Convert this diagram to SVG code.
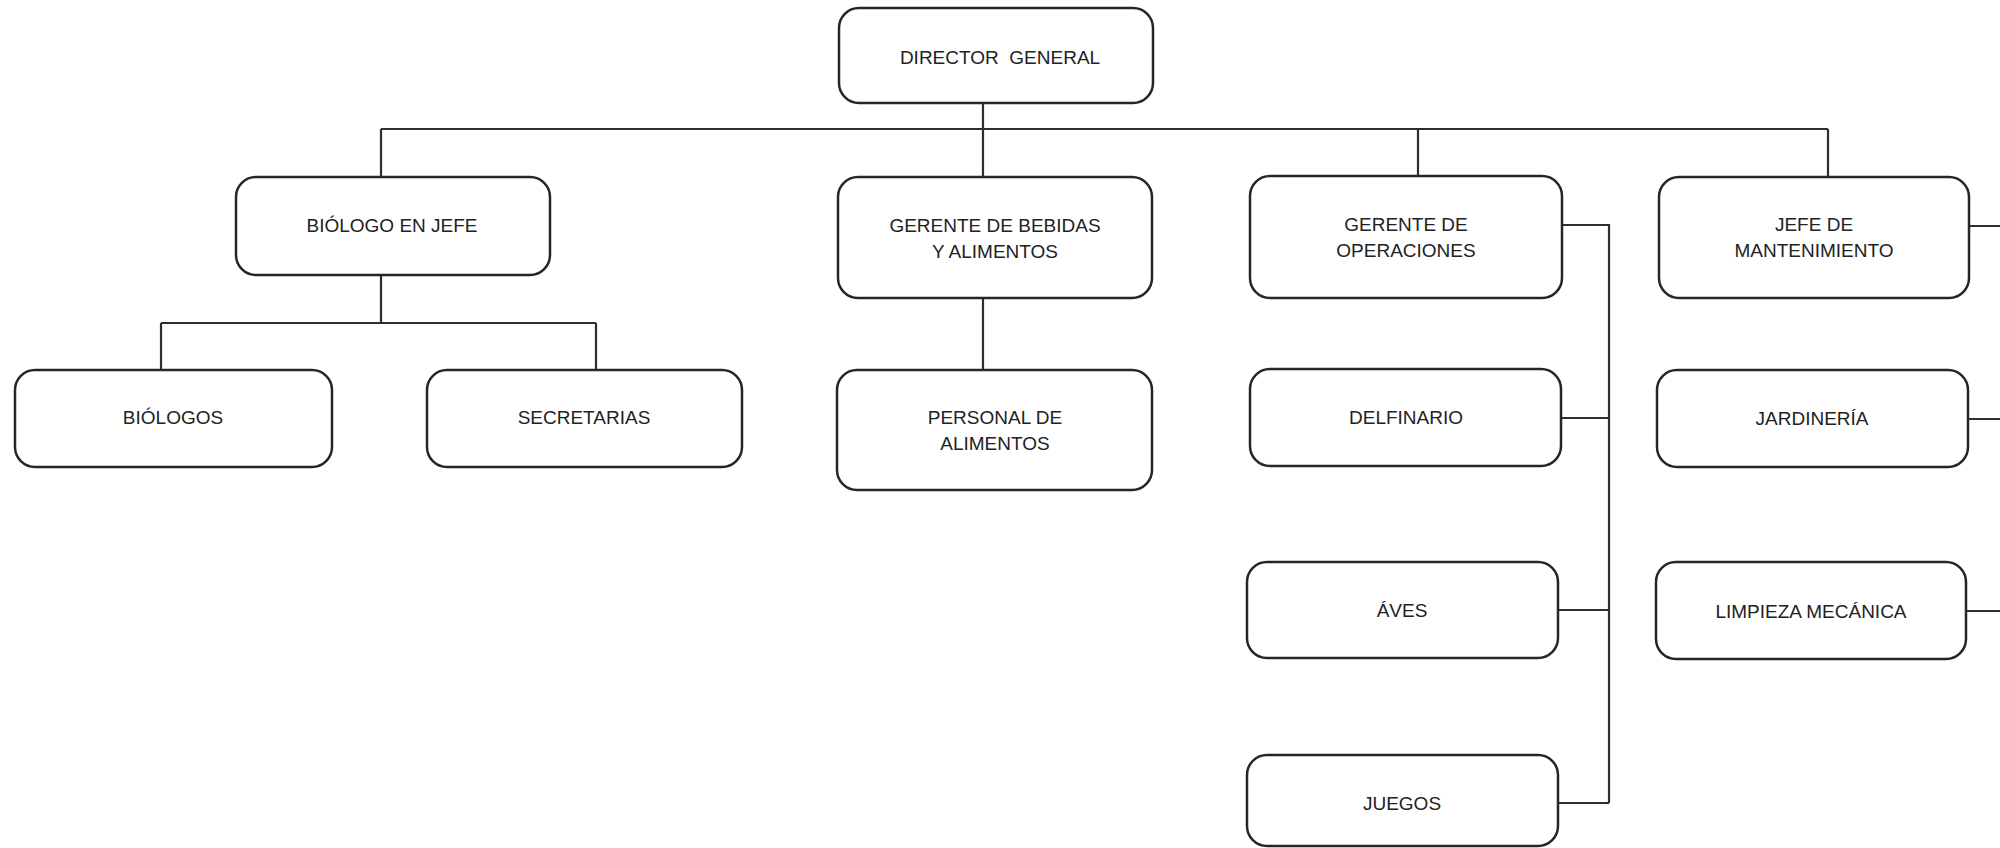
<svg xmlns="http://www.w3.org/2000/svg" width="2000" height="848" viewBox="0 0 2000 848">
  <style>
    .box { fill: #ffffff; stroke: #262626; stroke-width: 2.5; }
    .lbl { font-family: "Liberation Sans", Arial, sans-serif; font-size: 19px; fill: #222222; text-anchor: middle; }
    .conn { fill: none; stroke: #2e2e2e; stroke-width: 2.2; }
  </style>
  <rect x="0" y="0" width="2000" height="848" fill="#ffffff"/>

  <g id="connectors">
    <path class="conn" d="M983 103 V129"/>
    <path class="conn" d="M381 129 H1828"/>
    <path class="conn" d="M381 129 V177"/>
    <path class="conn" d="M983 129 V177"/>
    <path class="conn" d="M1418 129 V176"/>
    <path class="conn" d="M1828 129 V177"/>
    <path class="conn" d="M381 275 V323 M161 323 H596 M161 323 V370 M596 323 V370"/>
    <path class="conn" d="M983 298 V370"/>
    <path class="conn" d="M1562 225 H1609 V803 M1561 418 H1609 M1558 610 H1609 M1558 803 H1609"/>
    <path class="conn" d="M1969 226 H2000 M1968 419 H2000 M1966 611 H2000"/>
  </g>

  <g id="director-general">
    <rect class="box" x="839" y="8" width="314" height="95" rx="20"/>
    <text class="lbl" x="1000" y="64" xml:space="preserve">DIRECTOR  GENERAL</text>
  </g>

  <g id="biologo-en-jefe">
    <rect class="box" x="236" y="177" width="314" height="98" rx="20"/>
    <text class="lbl" x="392" y="232">BIÓLOGO EN JEFE</text>
  </g>

  <g id="gerente-bebidas">
    <rect class="box" x="838" y="177" width="314" height="121" rx="20"/>
    <text class="lbl" x="995" y="232">GERENTE DE BEBIDAS</text>
    <text class="lbl" x="995" y="258">Y ALIMENTOS</text>
  </g>

  <g id="gerente-operaciones">
    <rect class="box" x="1250" y="176" width="312" height="122" rx="20"/>
    <text class="lbl" x="1406" y="231">GERENTE DE</text>
    <text class="lbl" x="1406" y="257">OPERACIONES</text>
  </g>

  <g id="jefe-mantenimiento">
    <rect class="box" x="1659" y="177" width="310" height="121" rx="20"/>
    <text class="lbl" x="1814" y="231">JEFE DE</text>
    <text class="lbl" x="1814" y="257">MANTENIMIENTO</text>
  </g>

  <g id="biologos">
    <rect class="box" x="15" y="370" width="317" height="97" rx="20"/>
    <text class="lbl" x="173" y="424">BIÓLOGOS</text>
  </g>

  <g id="secretarias">
    <rect class="box" x="427" y="370" width="315" height="97" rx="20"/>
    <text class="lbl" x="584" y="424">SECRETARIAS</text>
  </g>

  <g id="personal-alimentos">
    <rect class="box" x="837" y="370" width="315" height="120" rx="20"/>
    <text class="lbl" x="995" y="424">PERSONAL DE</text>
    <text class="lbl" x="995" y="450">ALIMENTOS</text>
  </g>

  <g id="delfinario">
    <rect class="box" x="1250" y="369" width="311" height="97" rx="20"/>
    <text class="lbl" x="1406" y="424">DELFINARIO</text>
  </g>

  <g id="jardineria">
    <rect class="box" x="1657" y="370" width="311" height="97" rx="20"/>
    <text class="lbl" x="1812" y="425">JARDINERÍA</text>
  </g>

  <g id="aves">
    <rect class="box" x="1247" y="562" width="311" height="96" rx="20"/>
    <text class="lbl" x="1402" y="617">ÁVES</text>
  </g>

  <g id="limpieza-mecanica">
    <rect class="box" x="1656" y="562" width="310" height="97" rx="20"/>
    <text class="lbl" x="1811" y="618">LIMPIEZA MECÁNICA</text>
  </g>

  <g id="juegos">
    <rect class="box" x="1247" y="755" width="311" height="91" rx="20"/>
    <text class="lbl" x="1402" y="810">JUEGOS</text>
  </g>
</svg>
